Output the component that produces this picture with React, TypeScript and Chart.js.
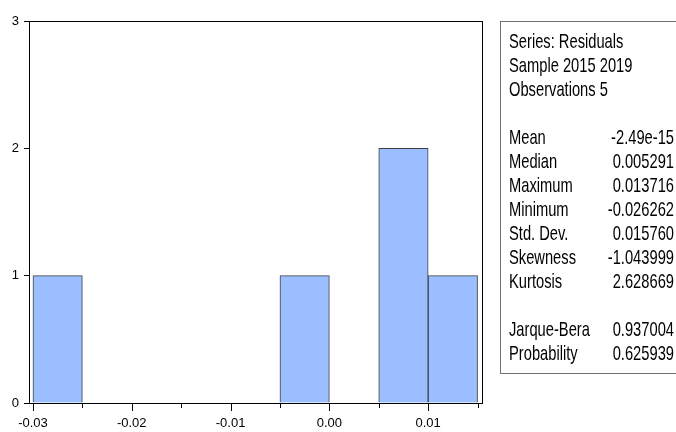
import React, { useEffect, useRef } from "react";
import { Chart, registerables } from "chart.js";

Chart.register(...registerables);

// Histogram bins (centres, width 0.005) and their counts
const binCenters = [-0.0275, -0.0225, -0.0175, -0.0125, -0.0075, -0.0025, 0.0025, 0.0075, 0.0125];
const binCounts = [1, 0, 0, 0, 0, 1, 0, 2, 1];

// Axis settings
const xMin = -0.0304;
const xMax = 0.01545;
const xStep = 0.005;
const yMax = 3;

// Statistics panel text
const headerLines = ["Series: Residuals", "Sample 2015 2019", "Observations 5"];
const statLabels = ["Mean", "Median", "Maximum", "Minimum", "Std. Dev.", "Skewness", "Kurtosis"];
const statValues = ["-2.49e-15", "0.005291", "0.013716", "-0.026262", "0.015760", "-1.043999", "2.628669"];
const testLabels = ["Jarque-Bera", "Probability"];
const testValues = ["0.937004", "0.625939"];

const isMajor = (v: number) => Math.abs(Math.round(v * 100) - v * 100) < 1e-6;

const framePlugin = {
  id: "eviewsFrame",
  afterDraw(chart: any) {
    const { ctx, chartArea: ca, scales } = chart;
    const l = Math.round(ca.left), r = Math.round(ca.right), t = Math.round(ca.top), b = Math.round(ca.bottom);
    ctx.save();
    ctx.strokeStyle = "#000";
    ctx.lineWidth = 1;
    ctx.strokeRect(l + 0.5, t + 0.5, r - l, b - t);
    // x tick marks
    const xs = scales.x;
    ctx.beginPath();
    xs.ticks.forEach((tk: any) => {
      const px = Math.round(xs.getPixelForValue(tk.value)) + 0.5;
      ctx.moveTo(px, b);
      ctx.lineTo(px, b + (isMajor(tk.value) ? 8 : 5));
    });
    ctx.stroke();

    // stats box
    ctx.strokeStyle = "#707070";
    ctx.strokeRect(500.5, 21.5, 220, 352);

    ctx.fillStyle = "#000";
    ctx.font = '21px "Liberation Sans", Arial, sans-serif';
    ctx.textBaseline = "alphabetic";
    const sx = 0.7;
    const leftX = 509;
    const rightX = 674;
    const base = 48.3;
    const sp = 24;
    const draw = (txt: string, x: number, y: number, align: CanvasTextAlign) => {
      ctx.save();
      ctx.translate(x, y);
      ctx.scale(sx, 1);
      ctx.textAlign = align;
      ctx.fillText(txt, 0, 0);
      ctx.restore();
    };
    headerLines.forEach((s, i) => draw(s, leftX, base + i * sp, "left"));
    statLabels.forEach((s, i) => {
      draw(s, leftX, base + (4 + i) * sp, "left");
      draw(statValues[i], rightX, base + (4 + i) * sp, "right");
    });
    testLabels.forEach((s, i) => {
      draw(s, leftX, base + (12 + i) * sp, "left");
      draw(testValues[i], rightX, base + (12 + i) * sp, "right");
    });
    ctx.restore();
  },
};

export default function App() {
  const ref = useRef<HTMLCanvasElement | null>(null);
  useEffect(() => {
    if (!ref.current) return;
    const chart = new Chart(ref.current, {
      type: "bar",
      data: {
        datasets: [
          {
            data: binCenters.map((x, i) => ({ x, y: binCounts[i] })),
            backgroundColor: "#9ABEFF",
            borderColor: "#404040",
            borderWidth: 1,
            barPercentage: 1,
            categoryPercentage: 1,
          },
        ],
      },
      options: {
        animation: false,
        responsive: false,
        maintainAspectRatio: false,
        layout: { padding: { left: 0, top: 21, right: 194, bottom: 0 } },
        plugins: { legend: { display: false }, tooltip: { enabled: false }, title: { display: false } },
        scales: {
          x: {
            type: "linear",
            min: xMin,
            max: xMax,
            offset: false,
            border: { display: false },
            grid: { display: false, drawTicks: false },
            afterFit: (s: any) => {
              s.height = 29;
            },
            ticks: {
              stepSize: xStep,
              includeBounds: false,
              autoSkip: false,
              maxRotation: 0,
              padding: 13,
              color: "#000",
              font: { family: '"Liberation Sans", Arial, sans-serif', size: 13 },
              callback: (v: any) => (isMajor(Number(v)) ? Number(v).toFixed(2) : ""),
            },
          },
          y: {
            min: 0,
            max: yMax,
            border: { display: false },
            grid: { drawOnChartArea: false, drawTicks: true, tickLength: 5, tickColor: "#000", color: "#000" },
            afterFit: (s: any) => {
              s.width = 29;
            },
            ticks: {
              stepSize: 1,
              padding: 5,
              color: "#000",
              font: { family: '"Liberation Sans", Arial, sans-serif', size: 13 },
            },
          },
        },
      },
      plugins: [framePlugin],
    });
    return () => chart.destroy();
  }, []);
  return (
    <div style={{ position: "absolute", left: 0, top: 0, width: 676, height: 432, background: "#fff" }}>
      <canvas ref={ref} width={676} height={432} style={{ width: 676, height: 432 }} />
    </div>
  );
}
